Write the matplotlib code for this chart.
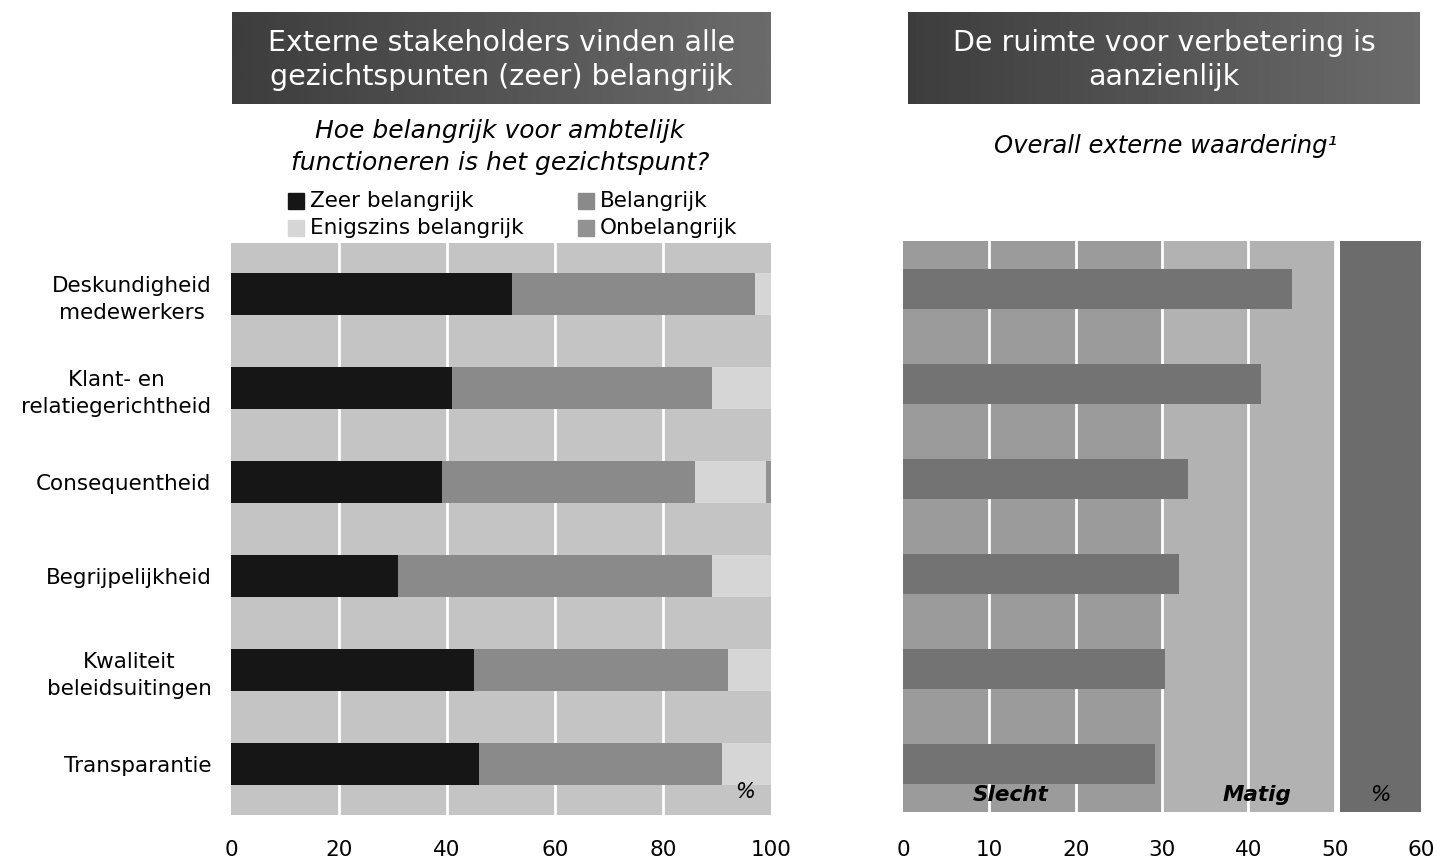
import numpy as np
import matplotlib.pyplot as plt

W, H = 1446, 860

categories = ["Deskundigheid\nmedewerkers", "Klant- en\nrelatiegerichtheid", "Consequentheid",
              "Begrijpelijkheid", "Kwaliteit\nbeleidsuitingen", "Transparantie"]
zeer = [52, 41, 39, 31, 45, 46]
belangrijk = [45, 48, 47, 58, 47, 45]
enigszins = [3, 11, 13, 11, 8, 9]
onbelangrijk = [0, 0, 1, 0, 0, 0]
series_names = ["Zeer belangrijk", "Belangrijk", "Enigszins belangrijk", "Onbelangrijk"]
series_colors = ["#161616", "#8a8a8a", "#d6d6d6", "#929292"]

waardering = [45.1, 41.5, 33.0, 32.0, 30.3, 29.2]
bands = [(0, 30, "#9b9b9b"), (30, 50, "#b2b2b2"), (50, 60, "#6c6c6c")]
band_labels = [(12.5, "Slecht", "bold"), (41, "Matig", "bold"), (55.3, "%", "normal")]

left_ticks = [0, 20, 40, 60, 80, 100]
right_ticks = [0, 10, 20, 30, 40, 50, 60]

plt.rcParams['font.family'] = ['DejaVu Sans']

fig = plt.figure(figsize=(W / 100, H / 100), dpi=100)


def px_axes(x0, y0, x1, y1):
    # pixel box (top-left origin) -> figure axes
    return fig.add_axes([x0 / W, 1 - y1 / H, (x1 - x0) / W, (y1 - y0) / H])


def header(x0, x1, lines):
    ax = px_axes(x0, 12, x1, 104)
    grad = np.linspace(0.24, 0.42, 256).reshape(1, -1)
    ax.imshow(grad, cmap="gray", vmin=0, vmax=1, aspect="auto", extent=[0, 1, 0, 1])
    ax.text(0.5, 0.48, lines, color="white", ha="center", va="center", fontsize=20.5,
            linespacing=1.3, transform=ax.transAxes)
    ax.set_axis_off()


header(232, 771, "Externe stakeholders vinden alle\ngezichtspunten (zeer) belangrijk")
header(908, 1420, "De ruimte voor verbetering is\naanzienlijk")

fig.text(500 / W, 1 - 147 / H, "Hoe belangrijk voor ambtelijk\nfunctioneren is het gezichtspunt?",
         ha="center", va="center", fontsize=18, style="italic", linespacing=1.4)
fig.text(1166 / W, 1 - 146 / H, "Overall externe waardering\u00b9",
         ha="center", va="center", fontsize=17.5, style="italic")

# legend of the left chart
leg_pos = [(288, 201), (578, 201), (288, 228), (578, 228)]
for (lx, ly), name, col in zip(leg_pos, series_names, series_colors):
    fig.patches.append(plt.Rectangle((lx / W, 1 - (ly + 8) / H), 16 / W, 16 / H,
                                     color=col, transform=fig.transFigure))
    fig.text((lx + 22) / W, 1 - ly / H, name, ha="left", va="center", fontsize=15.5)

# left chart: stacked bars
ax1 = px_axes(231, 243, 771, 815)
ax1.set_facecolor("#c4c4c4")
y = np.arange(len(categories))
left = np.zeros(len(categories))
for vals, col in zip([zeer, belangrijk, enigszins, onbelangrijk], series_colors):
    ax1.barh(y, vals, left=left, height=0.45, color=col, zorder=3)
    left += np.array(vals)
for t in left_ticks[1:-1]:
    ax1.axvline(t, color="white", lw=2, zorder=1)
ax1.set_xlim(0, 100)
ax1.set_ylim(len(categories) - 0.46, -0.54)
ax1.set_yticks(y)
ax1.set_yticklabels(categories, fontsize=15.5, linespacing=1.45, ha="right",
                    multialignment="center")
ax1.tick_params(axis="y", length=0, pad=14)
ax1.set_xticks(left_ticks)
ax1.set_xticklabels([str(t) for t in left_ticks], fontsize=15.5)
ax1.tick_params(axis="x", length=0, pad=18)
for s in ax1.spines.values():
    s.set_visible(False)
ax1.text(95.2, 5.3, "%", ha="center", va="center", fontsize=15, style="italic", zorder=4)

# right chart: single bars over rating bands
ax2 = px_axes(903, 241, 1421, 812)
ax2.set_facecolor("white")
for lo, hi, col in bands:
    start = lo + 0.6 if lo == 50 else lo
    ax2.axvspan(start, hi, color=col, zorder=0, lw=0)
for xpos, lab, wt in band_labels:
    ax2.text(xpos, 5.32, lab, ha="center", va="center", fontsize=15.5, style="italic",
             weight=wt, zorder=4)
for t in right_ticks[1:-1]:
    ax2.axvline(t, color="white", lw=2, zorder=1)
ax2.barh(y, waardering, height=0.42, color="#737373", zorder=3)
ax2.set_xlim(0, 60)
ax2.set_ylim(len(categories) - 0.5, -0.5)
ax2.set_yticks([])
ax2.set_xticks(right_ticks)
ax2.set_xticklabels([str(t) for t in right_ticks], fontsize=15.5)
ax2.tick_params(axis="x", length=0, pad=20)
for s in ax2.spines.values():
    s.set_visible(False)

fig.savefig("out.png", dpi=100)
